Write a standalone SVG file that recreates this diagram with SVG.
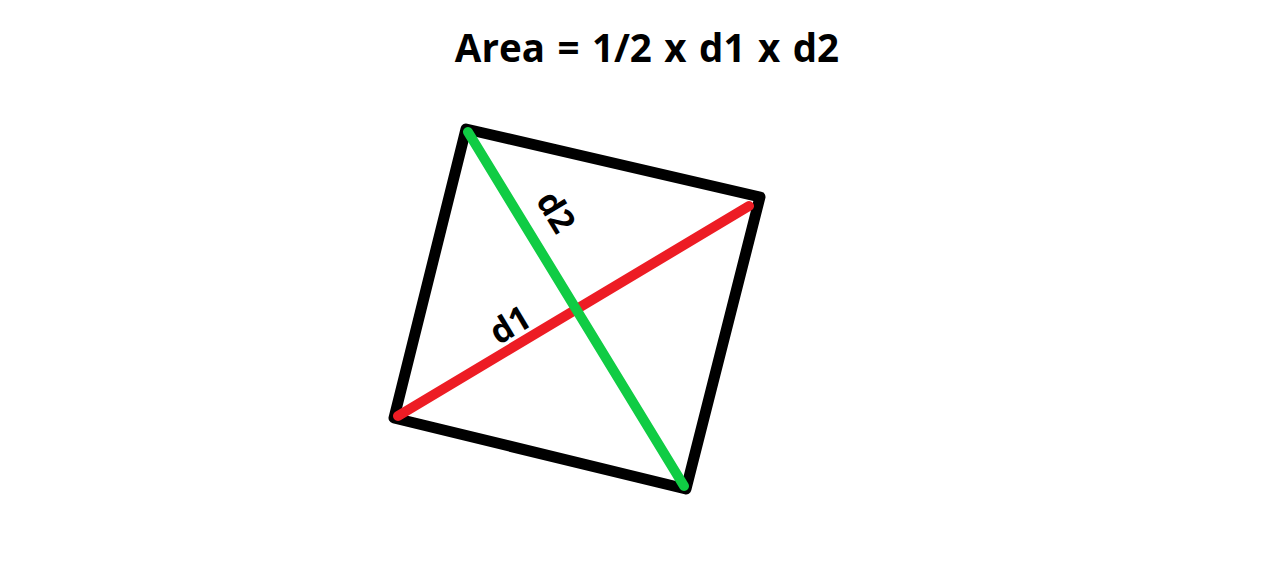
<svg xmlns="http://www.w3.org/2000/svg" width="1284" height="576" viewBox="0 0 1284 576">
<style>
.t{font-family:"Open Sans","Noto Sans","Liberation Sans",sans-serif;font-weight:bold;fill:#000}
.diag{stroke-width:10;stroke-linecap:round;fill:none}
</style>
<rect width="1284" height="576" fill="#fff"/>
<g id="title"><text class="t" x="647" y="62" font-size="38.5" word-spacing="2.5" text-anchor="middle">Area = 1/2 x d1 x d2</text></g>
<g id="square"><polygon points="466,129 760,197 686,489 394,418" fill="none" stroke="#000" stroke-width="11" stroke-linejoin="round"/></g>
<g id="connectors">
<line id="d1-line" class="diag" x1="398" y1="416" x2="749" y2="206" stroke="#ed1c24"/>
<line id="d2-line" class="diag" x1="468" y1="132" x2="684" y2="486" stroke="#10cc44"/>
</g>
<g id="label-d2"><text class="t" font-size="34" text-anchor="middle" transform="translate(546,218) rotate(58.6)">d2</text></g>
<g id="label-d1"><text class="t" font-size="34" text-anchor="middle" transform="translate(516,335) rotate(-30.8)">d1</text></g>
</svg>
